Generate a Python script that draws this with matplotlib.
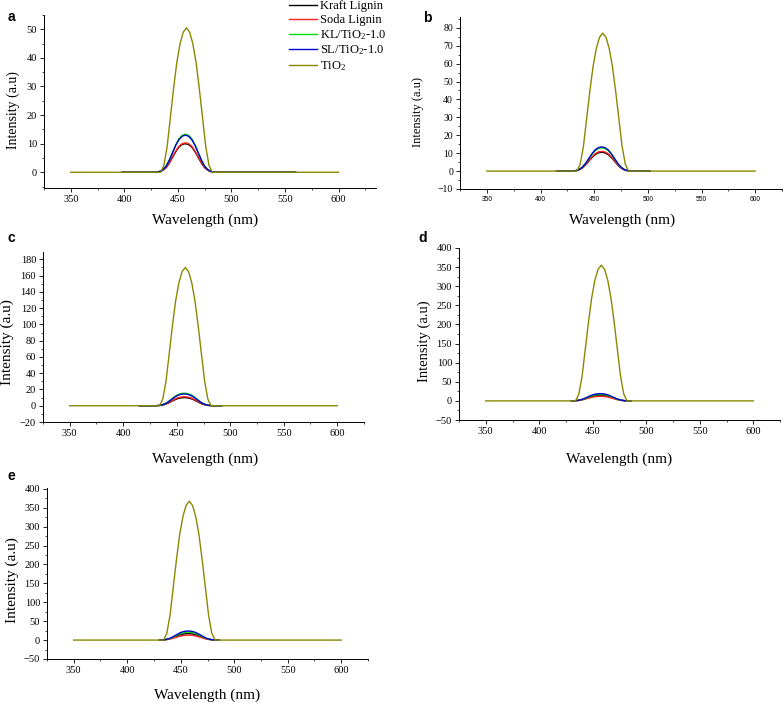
import matplotlib
matplotlib.use('Agg')
import matplotlib.pyplot as plt
from matplotlib.ticker import MultipleLocator

plt.rcParams['font.family'] = ['Liberation Serif', 'DejaVu Serif']
plt.rcParams['mathtext.fontset'] = 'custom'
plt.rcParams['mathtext.rm'] = 'Liberation Serif'
plt.rcParams['mathtext.it'] = 'Liberation Serif:italic'

# wavelengths (nm)
wl_tio2 = [350, 434, 437, 440, 443, 446, 449, 452, 455, 458, 461, 464, 467, 470, 473, 476, 479, 482, 600]
wl_lig = [430, 433, 436, 439, 442, 445, 448, 451, 454, 457, 460, 463, 466, 469, 472, 475, 478, 481, 484]

labels = ["Kraft Lignin", "Soda Lignin", r"KL/TiO$_2$-1.0", r"SL/TiO$_2$-1.0", r"TiO$_2$"]
colors = ["black", "#ff2020", "#00e000", "#0000d0", "#8a8800"]

# panel a
kraft_a = [0, .2, .7, 1.6, 3.2, 5.2, 7.2, 8.8, 9.7, 10.0, 9.7, 8.8, 7.2, 5.2, 3.2, 1.6, .7, .2, 0]
soda_a = [0, .2, .7, 1.6, 3.3, 5.4, 7.4, 9.1, 10.0, 10.3, 10.0, 9.1, 7.4, 5.4, 3.3, 1.6, .7, .2, 0]
kl_a = [0, .3, .9, 2.1, 4.3, 6.9, 9.6, 11.7, 12.9, 13.3, 12.9, 11.7, 9.6, 6.9, 4.3, 2.1, .9, .3, 0]
sl_a = [0, .3, .9, 2.1, 4.2, 6.8, 9.4, 11.4, 12.6, 13.0, 12.6, 11.4, 9.4, 6.8, 4.2, 2.1, .9, .3, 0]
tio2_a = [0, 0, 2.5, 9.1, 19.2, 29.3, 38.4, 44.9, 49.0, 50.5, 49.0, 44.9, 38.4, 29.3, 19.2, 9.1, 2.5, 0, 0]

# panel b
kraft_b = [0, .2, .7, 1.7, 3.4, 5.5, 7.6, 9.2, 10.2, 10.5, 10.2, 9.2, 7.6, 5.5, 3.4, 1.7, .7, .2, 0]
soda_b = [0, .2, .8, 1.8, 3.5, 5.7, 7.9, 9.7, 10.7, 11.0, 10.7, 9.7, 7.9, 5.7, 3.5, 1.8, .8, .2, 0]
kl_b = [0, .3, .9, 2.1, 4.2, 6.8, 9.4, 11.4, 12.6, 13.0, 12.6, 11.4, 9.4, 6.8, 4.2, 2.1, .9, .3, 0]
sl_b = [0, .3, .9, 2.2, 4.3, 7.0, 9.7, 11.9, 13.1, 13.5, 13.1, 11.9, 9.7, 7.0, 4.3, 2.2, .9, .3, 0]
tio2_b = [0, 0, 3.9, 13.9, 29.3, 44.7, 58.5, 68.5, 74.7, 77.0, 74.7, 68.5, 58.5, 44.7, 29.3, 13.9, 3.9, 0, 0]

# panel c
kraft_c = [0, .2, .7, 1.6, 3.2, 5.2, 7.2, 8.8, 9.7, 10.0, 9.7, 8.8, 7.2, 5.2, 3.2, 1.6, .7, .2, 0]
soda_c = [0, .2, .8, 1.8, 3.5, 5.7, 7.9, 9.7, 10.7, 11.0, 10.7, 9.7, 7.9, 5.7, 3.5, 1.8, .8, .2, 0]
kl_c = [0, .3, 1.1, 2.5, 5.0, 8.1, 11.2, 13.6, 15.0, 15.5, 15.0, 13.6, 11.2, 8.1, 5.0, 2.5, 1.1, .3, 0]
sl_c = [0, .3, 1.0, 2.3, 4.6, 7.5, 10.4, 12.8, 14.1, 14.5, 14.1, 12.8, 10.4, 7.5, 4.6, 2.3, 1.0, .3, 0]
tio2_c = [0, 0, 8.5, 30.6, 64.6, 98.6, 129.2, 151.3, 164.9, 170.0, 164.9, 151.3, 129.2, 98.6, 64.6, 30.6, 8.5, 0, 0]

# panel d
kraft_d = [0, .3, 1.1, 2.4, 4.8, 7.8, 10.8, 13.2, 14.6, 15.0, 14.6, 13.2, 10.8, 7.8, 4.8, 2.4, 1.1, .3, 0]
soda_d = [0, .2, .8, 1.9, 3.8, 6.2, 8.6, 10.6, 11.6, 12.0, 11.6, 10.6, 8.6, 6.2, 3.8, 1.9, .8, .2, 0]
kl_d = [0, .3, 1.2, 2.7, 5.4, 8.8, 12.2, 15.0, 16.5, 17.0, 16.5, 15.0, 12.2, 8.8, 5.4, 2.7, 1.2, .3, 0]
sl_d = [0, .4, 1.3, 3.0, 6.1, 9.9, 13.7, 16.7, 18.4, 19.0, 18.4, 16.7, 13.7, 9.9, 6.1, 3.0, 1.3, .4, 0]
tio2_d = [0, 0, 17.8, 63.9, 134.9, 205.9, 269.8, 316.0, 344.4, 355.0, 344.4, 316.0, 269.8, 205.9, 134.9, 63.9, 17.8, 0, 0]

# panel e
kraft_e = [0, .3, 1.2, 2.7, 5.4, 8.8, 12.2, 15.0, 16.5, 17.0, 16.5, 15.0, 12.2, 8.8, 5.4, 2.7, 1.2, .3, 0]
soda_e = [0, .3, .9, 2.1, 4.2, 6.8, 9.4, 11.4, 12.6, 13.0, 12.6, 11.4, 9.4, 6.8, 4.2, 2.1, .9, .3, 0]
kl_e = [0, .4, 1.5, 3.4, 6.7, 10.9, 15.1, 18.5, 20.4, 21.0, 20.4, 18.5, 15.1, 10.9, 6.7, 3.4, 1.5, .4, 0]
sl_e = [0, .5, 1.7, 3.8, 7.7, 12.5, 17.3, 21.1, 23.3, 24.0, 23.3, 21.1, 17.3, 12.5, 7.7, 3.8, 1.7, .5, 0]
tio2_e = [0, 0, 18.4, 66.1, 139.5, 212.9, 278.9, 326.6, 356.0, 367.0, 356.0, 326.6, 278.9, 212.9, 139.5, 66.1, 18.4, 0, 0]

# where the lignin traces start / stop (nm)
lig_start = [398, 415, 415, 430, 430]
lig_end = [560, 502, 492, 486, 486]

panels = [
    ("a", [kraft_a, soda_a, kl_a, sl_a], tio2_a),
    ("b", [kraft_b, soda_b, kl_b, sl_b], tio2_b),
    ("c", [kraft_c, soda_c, kl_c, sl_c], tio2_c),
    ("d", [kraft_d, soda_d, kl_d, sl_d], tio2_d),
    ("e", [kraft_e, soda_e, kl_e, sl_e], tio2_e),
]

W, H = 784, 705
# axes boxes in pixels: left, top, right, bottom
boxes = [(44, 15, 376, 188), (460, 17, 782, 189), (43, 252, 364, 422),
         (459, 248, 780, 420), (47, 488, 368, 659)]
xlims = [(325, 635), (325, 625), (325, 625), (325, 625), (325, 625)]
ylims = [(-5.5, 55), (-10, 86), (-20, 189), (-50, 400), (-50, 402)]
ymajor = [10, 10, 20, 50, 50]
ylab_size = [10, 9, 11, 10.5, 11]
ylab_pos = [(-0.093, 0.45), (-0.13, 0.45), (-0.112, 0.47), (-0.108, 0.457), (-0.108, 0.46)]
xlab_pos = [(0.485, -0.185), (0.503, -0.18), (0.505, -0.22), (0.5, -0.23), (0.5, -0.21)]
letter_pos = [(8, 21), (423, 22), (7, 242), (418, 242), (8, 480)]

fig = plt.figure(figsize=(W / 100, H / 100), dpi=100)

for i, (letter, lignins, tio2) in enumerate(panels):
    l, t, r, b = boxes[i]
    ax = fig.add_axes([l / W, 1 - b / H, (r - l) / W, (b - t) / H])
    for k, vals in enumerate(lignins):
        ax.plot([lig_start[i]] + wl_lig + [lig_end[i]], [0] + vals + [0],
                color=colors[k], lw=1.0, label=labels[k])
    ax.plot(wl_tio2, tio2, color=colors[4], lw=1.0, label=labels[4])

    ax.set_xlim(*xlims[i])
    ax.set_ylim(*ylims[i])
    ax.xaxis.set_major_locator(MultipleLocator(50))
    ax.xaxis.set_minor_locator(MultipleLocator(25))
    ax.yaxis.set_major_locator(MultipleLocator(ymajor[i]))
    ax.yaxis.set_minor_locator(MultipleLocator(ymajor[i] / 2))
    ax.spines['top'].set_visible(False)
    ax.spines['right'].set_visible(False)
    for s in ('left', 'bottom'):
        ax.spines[s].set_linewidth(0.7)
    ax.tick_params(which='major', length=3, width=0.6, labelsize=7.5, pad=2)
    ax.tick_params(which='minor', length=1.6, width=0.5)
    if letter == 'b':
        ax.tick_params(axis='y', labelsize=7)
        for lab in ax.get_xticklabels():
            lab.set_fontfamily(['Liberation Sans', 'DejaVu Sans'])
            lab.set_fontsize(4.8)

    ax.set_xlabel("Wavelength (nm)", fontsize=11, va='center')
    ax.xaxis.set_label_coords(*xlab_pos[i])
    ax.set_ylabel("Intensity (a.u)", fontsize=ylab_size[i], va='center')
    ax.yaxis.set_label_coords(*ylab_pos[i])

    fig.text(letter_pos[i][0] / W, 1 - letter_pos[i][1] / H, letter, fontsize=10,
             fontweight='bold', family=['Liberation Sans', 'DejaVu Sans'], va='baseline')

    if letter == 'a':
        ax.legend(loc='upper left', bbox_to_anchor=(288 / W, 1 + 1 / H),
                  bbox_transform=fig.transFigure, frameon=False, fontsize=9,
                  handlelength=2.2, handletextpad=0.3, labelspacing=0.15,
                  borderpad=0.1, borderaxespad=0)

fig.savefig("out.png", dpi=100)
